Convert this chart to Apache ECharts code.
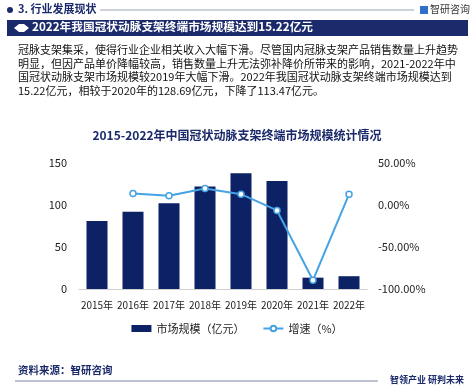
<!DOCTYPE html>
<html><head><meta charset="utf-8">
<script src="https://cdn.jsdelivr.net/npm/echarts@6/dist/echarts.min.js"></script>
<style>html,body{margin:0;padding:0;background:#fff}#c{width:474px;height:389px}</style>
</head><body><div id="c"></div>
<script>
const categories = ['2015年','2016年','2017年','2018年','2019年','2020年','2021年','2022年'];
const marketSize = [81, 92, 102, 122, 137.7, 128.69, 13.5, 15.22];
const growthRate = [null, 13.6, 10.9, 19.6, 12.9, -6.5, -89.5, 12.7];
const leftTicks = {min: 0, max: 150, interval: 50};
const rightTicks = {min: -100, max: 50, interval: 50};
const paragraph = [
  '冠脉支架集采，使得行业企业相关收入大幅下滑。尽管国内冠脉支架产品销售数量上升趋势',
  '明显，但因产品单价降幅较高，销售数量上升无法弥补降价所带来的影响，2021-2022年中',
  '国冠状动脉支架市场规模较2019年大幅下滑。2022年我国冠状动脉支架终端市场规模达到',
  '15.22亿元，相较于2020年的128.69亿元，下降了113.47亿元。'
];
const FONT = '"Noto Sans CJK SC", "Noto Sans", sans-serif';
const NAVY = '#1b2a6b';
const chart = echarts.init(document.getElementById('c'), null, {renderer: 'canvas'});
const graphics = [
  {type:'circle', shape:{cx:10, cy:10, r:3}, style:{fill:NAVY}},
  {type:'text', left:18, top:3, style:{text:'3. 行业发展现状', font:'bold 11px '+FONT, fill:NAVY}},
  {type:'line', shape:{x1:100, y1:10, x2:414, y2:10}, style:{stroke:'#9aa3b8', lineWidth:1}},
  {type:'rect', shape:{x:420, y:6, width:8, height:8}, style:{fill:'#2f6fc8'}},
  {type:'text', left:430, top:4, style:{text:'智研咨询', font:'10px '+FONT, fill:'#333'}},
  {type:'rect', shape:{x:7, y:20, width:461, height:16}, style:{fill:NAVY}},
  {type:'polygon', shape:{points:[[14,28],[19,24],[24,24],[29,28],[24,32],[19,32]]}, style:{fill:'#fff'}},
  {type:'text', left:32, top:20.5, style:{text:'2022年我国冠状动脉支架终端市场规模达到15.22亿元', font:'bold 11.7px '+FONT, fill:'#fff'}},
  {type:'text', left:18, top:43, style:{text:paragraph.join('\n'), font:'11px '+FONT, fill:'#111', lineHeight:13.6}},
  {type:'text', left:'center', top:129, style:{text:'2015-2022年中国冠状动脉支架终端市场规模统计情况', font:'bold 12px '+FONT, fill:NAVY}},
  {type:'text', left:18, top:365, style:{text:'资料来源：智研咨询', font:'bold 10.5px '+FONT, fill:NAVY}},
  {type:'line', shape:{x1:15, y1:381, x2:378, y2:381}, style:{stroke:'#7d86a8', lineWidth:1}},
  {type:'text', left:390, top:375, style:{text:'智领产业 研判未来', font:'bold 9px '+FONT, fill:NAVY}}
];
chart.setOption({
  animation:false,
  textStyle:{fontFamily:FONT},
  graphic: graphics,
  grid:{left:79, right:107, top:163, bottom:100, containLabel:false},
  legend:{
    bottom:50, left:'center', itemGap:18, itemWidth:20, itemHeight:7,
    textStyle:{fontSize:11, color:'#222', fontFamily:FONT},
    data:[{name:'市场规模（亿元）', icon:'rect'}, {name:'增速（%）'}]
  },
  xAxis:{
    type:'category', data:categories,
    axisLine:{lineStyle:{color:'#d0d0d0'}}, axisTick:{show:false},
    axisLabel:{fontSize:10, color:'#222', margin:11, interval:0}
  },
  yAxis:[
    {type:'value', min:leftTicks.min, max:leftTicks.max, interval:leftTicks.interval,
     splitLine:{show:false}, axisLine:{show:false}, axisTick:{show:false},
     axisLabel:{fontSize:11, color:'#222', margin:12}},
    {type:'value', min:rightTicks.min, max:rightTicks.max, interval:rightTicks.interval,
     splitLine:{show:false}, axisLine:{show:false}, axisTick:{show:false},
     axisLabel:{fontSize:11, color:'#222', margin:11, formatter:v=>v.toFixed(2)+'%'}}
  ],
  series:[
    {name:'市场规模（亿元）', type:'bar', data:marketSize, barWidth:21, itemStyle:{color:'#0c2265'}},
    {name:'增速（%）', type:'line', yAxisIndex:1, data:growthRate, symbol:'circle', symbolSize:6,
     lineStyle:{color:'#45a3e3', width:2}, itemStyle:{color:'#fff', borderColor:'#45a3e3', borderWidth:1.5}}
  ]
});
</script></body></html>
